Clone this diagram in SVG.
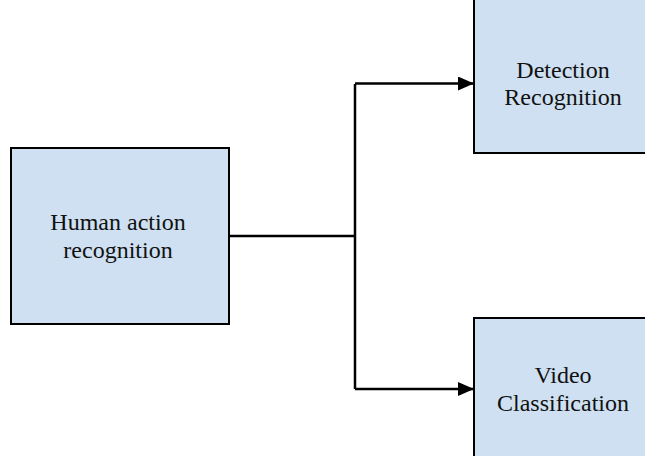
<svg xmlns="http://www.w3.org/2000/svg" width="645" height="456" viewBox="0 0 645 456">
<style>
.box{fill:#cee0f2;stroke:#000;stroke-width:2}
.lbl{font-family:"Liberation Serif","Times New Roman",serif;font-size:24px;fill:#111;text-anchor:middle}
.conn{fill:none;stroke:#000;stroke-width:2.5}
</style>
<defs>
<marker id="arr" markerWidth="16" markerHeight="14" refX="15" refY="7" orient="auto" markerUnits="userSpaceOnUse">
<path d="M0,0 L16,7 L0,14 Z" fill="#000"/>
</marker>
</defs>
<rect width="645" height="456" fill="#fff"/>
<g id="connectors">
<path class="conn" d="M229,236 H355"/>
<path class="conn" d="M355,236 V84"/>
<path class="conn" d="M355,236 V389"/>
<path class="conn" d="M355,83.5 H473" marker-end="url(#arr)"/>
<path class="conn" d="M355,389 H473" marker-end="url(#arr)"/>
</g>
<g id="human">
<rect class="box" x="11" y="148" width="218" height="176"/>
<text class="lbl" x="118" y="230">Human action</text>
<text class="lbl" x="118" y="258">recognition</text>
</g>
<g id="detection">
<rect class="box" x="474" y="-5" width="180" height="158"/>
<text class="lbl" x="563" y="78">Detection</text>
<text class="lbl" x="563" y="105">Recognition</text>
</g>
<g id="video">
<rect class="box" x="474" y="318" width="180" height="150"/>
<text class="lbl" x="563" y="383">Video</text>
<text class="lbl" x="563" y="411">Classification</text>
</g>
</svg>
